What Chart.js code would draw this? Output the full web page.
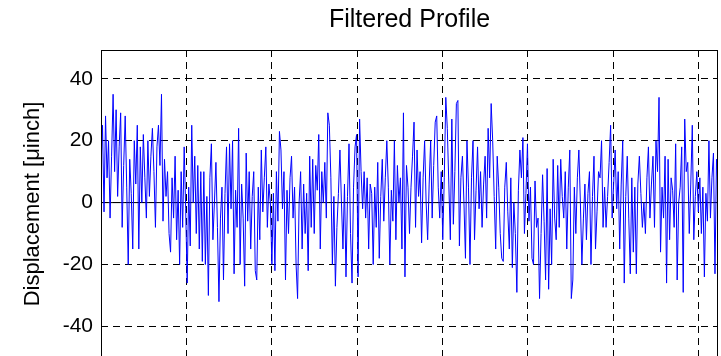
<!DOCTYPE html>
<html>
<head>
<meta charset="utf-8">
<script src="https://cdn.jsdelivr.net/npm/chart.js@4/dist/chart.umd.min.js"></script>
<style>
  html, body { margin: 0; padding: 0; background: #fff; overflow: hidden; }
  #wrap { width: 721px; height: 380px; }
</style>
</head>
<body>
<div id="wrap"><canvas id="myChart" width="721" height="380"></canvas></div>
<script>
// filtered profile (µinch), evenly spaced samples
var profile = [
  12, 25, -3, 28, 8, 20, -5, 15, 35, 10, 30, 2, 18, 29, -8, 12, 28, 5, -20, 14,
  3, -15, 20, 6, 25, -15, 18, 0, 22, 8, -5, 20, 2, 15, 24, 10, -8, 18, 25, 12,
  35, -6, 14, 2, 10, -10, -16, 8, -5, 15, -12, 4, -20, 10, -8, 18, -2, -26, 5, -14,
  25, 0, 15, -10, 12, -15, 10, -19,
  10, -20, 2, -30, 8, 19, -12, 0, 13, -8, -32, -5, 5, -25, 3, 18, -10, 19, -2, 20,
  -23, 4, -8, 24, -20, 6, -5, -27, 16, -6, 10, -15, 2, 10, -22, -25, 5, -12, 17, -3,
  8, 18, -8, 6, 0, -20, 3, -22, 10, -6, 23, 17, -2, 10, -25, 4, -10, 8, 15, -5,
  5, -20, -31, 0, 10, -15, 6, -10, 3,
  -22, 15, -8, 14, -10, 12, 4, 22, -15, 10, 0, 13, -5, 29, 25, 8, -20, 2, -27, -8,
  3, 17, 0, -15, 6, -24, 2, 19, -10, -26, 5, 18, 22, -24, 27, 10, -2, 10, -5, 8,
  -15, 6, 3, -20, 5, -8, 13, -18, 2, 14, -6, 8, 20, 5, -20, 4, -6, 20, -12, 12,
  0, 8, -15, 29, -24, 12, 5, -10,
  5, 15, 26, -8, 17, 2, 10, -13, 8, 20, 0, -12, 6, 20, -5, 12, 26, 28, 5, -5,
  10, -12, 8, 34, 24, 6, -12, 27, -7, 10, 32, 33, -14, 8, 15, 0, -18, 20, 5, -20,
  8, 20, -12, 4, 18, -2, 10, -8, 6, 15, -5, 24, 8, 32, 20, 2, -15, 15, 5, -10,
  -18, -19, 5, 13, -3, -15, 8, -21,
  0, -10, -29, 4, 17, 8, 21, -10, 3, 19, -6, 5, -18, -20, 7, -8, -5, -31, -10, 9,
  -6, -25, 11, -28, -2, -20, 14, -5, -12, 12, -8, 14, 2, -5, 10, -15, 5, 17, -31, -25,
  5, -10, 8, 17, 0, -20, -5, 6, -12, 3, 10, -20, 2, 15, -15, -3, 10, 8, 20, -8,
  5, -8, 2, 13, 25, -5, 6, 17, -2,
  10, -15, 6, 20, -26, 2, 15, -5, -23, 8, -16, 5, -23, 6, 15, 3, -8, 0, -10, 8,
  18, -5, 6, 15, -8, 20, 10, 34, -16, 5, -5, 15, -26, 14, -12, 8, 4, -8, 19, -25,
  0, 5, 18, -29, 27, 10, 13, -10, 6, 25, -12, 2, 10, -3, 8, -10, 5, -24, 3, -6,
  20, -5, 8, 16, -23, 14, 5
];
var yTicks = [-40, -20, 0, 20, 40];
var xTicks = [1, 2, 3, 4, 5, 6, 7];
var xMax = 7.23;
var chartTitle = 'Filtered Profile';

var points = profile.map(function (v, i) {
  return { x: i * xMax / (profile.length - 1), y: v };
});

// axes box + title centred over the plot area, like matlab does
var boxPlugin = {
  id: 'box',
  afterDraw: function (chart) {
    var a = chart.chartArea, ctx = chart.ctx;
    ctx.save();
    ctx.strokeStyle = '#000';
    ctx.lineWidth = 1;
    ctx.setLineDash([]);
    ctx.strokeRect(Math.round(a.left) + 0.5, Math.round(a.top) + 0.5,
      Math.round(a.right - a.left) - 1, Math.round(a.bottom - a.top));
    ctx.fillStyle = '#000';
    ctx.font = '25px "Liberation Sans", Arial, sans-serif';
    ctx.textAlign = 'center';
    ctx.textBaseline = 'middle';
    ctx.fillText(chartTitle, (a.left + a.right) / 2, 20);
    ctx.restore();
  }
};

function load() {
  var ctx = document.getElementById('myChart').getContext('2d');
  new Chart(ctx, {
    type: 'line',
    data: {
      datasets: [{
        data: points,
        borderColor: '#0000ff',
        borderWidth: 1,
        pointRadius: 0,
        tension: 0,
        order: 1
      }, {
        data: [{ x: 0, y: 0 }, { x: xMax, y: 0 }],
        borderColor: '#000000',
        borderWidth: 1,
        pointRadius: 0,
        order: 2
      }]
    },
    options: {
      responsive: false,
      animation: false,
      layout: { padding: { left: 0, right: 3, top: 50, bottom: 22 } },
      plugins: {
        legend: { display: false },
        tooltip: { enabled: false },
        title: { display: false }
      },
      scales: {
        x: {
          type: 'linear',
          min: 0,
          max: xMax,
          afterBuildTicks: function (s) { s.ticks = xTicks.map(function (v) { return { value: v }; }); },
          afterFit: function (s) { s.height = 0; },
          ticks: { display: false },
          grid: { color: '#000', lineWidth: 1, drawTicks: false },
          border: { display: false, dash: [7, 5] }
        },
        y: {
          min: -50.2,
          max: 49.3,
          afterBuildTicks: function (s) { s.ticks = yTicks.map(function (v) { return { value: v }; }); },
          afterFit: function (s) { s.width = 101; },
          ticks: {
            color: '#000',
            padding: 8,
            font: { family: 'Liberation Sans, Arial, sans-serif', size: 21 }
          },
          grid: { color: '#000', lineWidth: 1, drawTicks: false },
          border: { display: false, dash: [7, 5] },
          title: {
            display: true,
            text: 'Displacement [μinch]',
            color: '#000',
            font: { family: 'Liberation Sans, Arial, sans-serif', size: 22 },
            padding: { top: 20, bottom: 0 }
          }
        }
      }
    },
    plugins: [boxPlugin]
  });
}

window.onload = load;
</script>
</body>
</html>
